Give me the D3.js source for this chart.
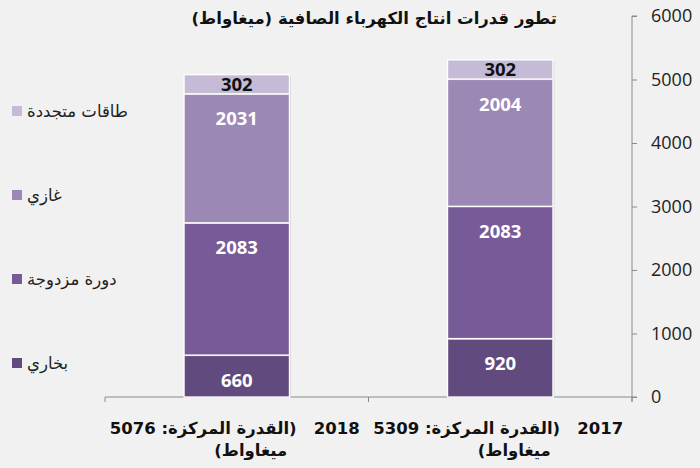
<!DOCTYPE html>
<html lang="ar">
<head>
<meta charset="utf-8">
<style>
  html, body { margin: 0; padding: 0; background: #f1f1f1; overflow: hidden; }
  svg { display: block; }
  .arab { font-family: "DejaVu Sans", sans-serif; }
  .num { font-family: "Open Sans", sans-serif; }
</style>
</head>
<body>
<svg width="700" height="468"></svg>
<script src="https://cdn.jsdelivr.net/npm/d3@7"></script>
<script>
// data
const years = ["2018", "2017"];
const totals = [5076, 5309];
const series = ["بخاري", "دورة مزدوجة", "غازي", "طاقات متجددة"];
const bukhari = [660, 920];
const dawra = [2083, 2083];
const gazi = [2031, 2004];
const mutajadida = [302, 302];
const yTicks = [0, 1000, 2000, 3000, 4000, 5000, 6000];
const title = "تطور قدرات انتاج الكهرباء الصافية (ميغاواط)";

const colors = ["#614a7d", "#775b98", "#9c88b5", "#c6bbd7"];

const svg = d3.select("svg");

const rows = years.map((y, i) => ({
  year: y, total: totals[i],
  [series[0]]: bukhari[i], [series[1]]: dawra[i],
  [series[2]]: gazi[i], [series[3]]: mutajadida[i]
}));

const x = d3.scaleBand().domain(years).range([105, 632])
  .paddingInner(0.6).paddingOuter(0.3);
const y = d3.scaleLinear().domain([0, 6000]).range([397, 16]);
const color = d3.scaleOrdinal().domain(series).range(colors);

const stacked = d3.stack().keys(series)(rows);

// axes
const yAxis = svg.append("g")
  .attr("transform", "translate(632,0)")
  .call(d3.axisRight(y).tickValues(yTicks).tickSize(5).tickPadding(14).tickFormat(d3.format("d")));
yAxis.select(".domain").attr("stroke", "#8a8a8a").attr("d", "M5,16H0V402");
yAxis.selectAll(".tick line").attr("stroke", "#8a8a8a");
yAxis.selectAll(".tick text")
  .attr("class", "num").attr("font-size", 18).attr("fill", "#222");

const xAxis = svg.append("g").attr("transform", "translate(0,397)");
xAxis.append("line").attr("x1", 105).attr("x2", 637).attr("stroke", "#8a8a8a");
const bounds = [105, (x("2018") + x.bandwidth() + x("2017")) / 2, 632];
xAxis.selectAll(".xt").data(bounds).join("line")
  .attr("x1", d => d).attr("x2", d => d).attr("y1", 0).attr("y2", 5)
  .attr("stroke", "#8a8a8a");

// bars
const layer = svg.append("g").selectAll("g").data(stacked).join("g")
  .attr("fill", d => color(d.key));

layer.selectAll("rect.shadow").data(d => d).join("rect")
  .attr("x", d => x(d.data.year) + 1.5)
  .attr("y", d => y(d[1]) + 1)
  .attr("width", x.bandwidth())
  .attr("height", d => y(d[0]) - y(d[1]))
  .attr("fill", "#d9d9d9");

layer.selectAll("rect.seg").data(d => d).join("rect")
  .attr("class", "seg")
  .attr("x", d => x(d.data.year))
  .attr("y", d => y(d[1]))
  .attr("width", x.bandwidth())
  .attr("height", d => y(d[0]) - y(d[1]))
  .attr("stroke", "#fff")
  .attr("stroke-width", 1.3);

// value labels
stacked.forEach(s => {
  svg.append("g").selectAll("text").data(s).join("text")
    .attr("class", "num")
    .attr("x", d => x(d.data.year) + x.bandwidth() / 2)
    .attr("y", d => {
      const top = y(d[1]), h = y(d[0]) - y(d[1]);
      const c = h < 30 ? h / 2 : Math.min(25, h / 2 + 4);
      return top + c + 6.5;
    })
    .attr("text-anchor", "middle")
    .attr("font-size", 18.5)
    .attr("font-weight", "bold")
    .attr("fill", s.key === series[3] ? "#111" : "#fff")
    .text(d => d[1] - d[0]);
});

// category labels
rows.forEach(r => {
  const cx = x(r.year) + x.bandwidth() / 2;
  const t = svg.append("text")
    .attr("class", "arab")
    .attr("direction", "rtl")
    .attr("text-anchor", "middle")
    .attr("font-size", 16.5)
    .attr("font-weight", "bold")
    .attr("fill", "#111");
  t.append("tspan").attr("x", cx - 2).attr("y", 434)
    .text(r.year + "\u00a0\u00a0\u00a0(القدرة المركزة: " + r.total);
  t.append("tspan").attr("x", cx + 14).attr("y", 456).text("ميغاواط)");
});

// title
svg.append("text")
  .attr("class", "arab")
  .attr("direction", "rtl")
  .attr("x", 557).attr("y", 24)
  .attr("text-anchor", "start")
  .attr("font-size", 16.5)
  .attr("font-weight", "bold")
  .attr("fill", "#111")
  .text(title);

// legend
const legend = svg.append("g").selectAll("g").data(series.slice().reverse()).join("g")
  .attr("transform", (d, i) => `translate(12,${111 + i * 84})`);
legend.append("rect")
  .attr("y", -5).attr("width", 10).attr("height", 10)
  .attr("fill", d => color(d));
legend.append("text")
  .attr("class", "arab")
  .attr("direction", "rtl")
  .attr("text-anchor", "end")
  .attr("x", 15).attr("y", 6)
  .attr("font-size", 16.5)
  .attr("fill", "#222")
  .text(d => d);
</script>
</body>
</html>
